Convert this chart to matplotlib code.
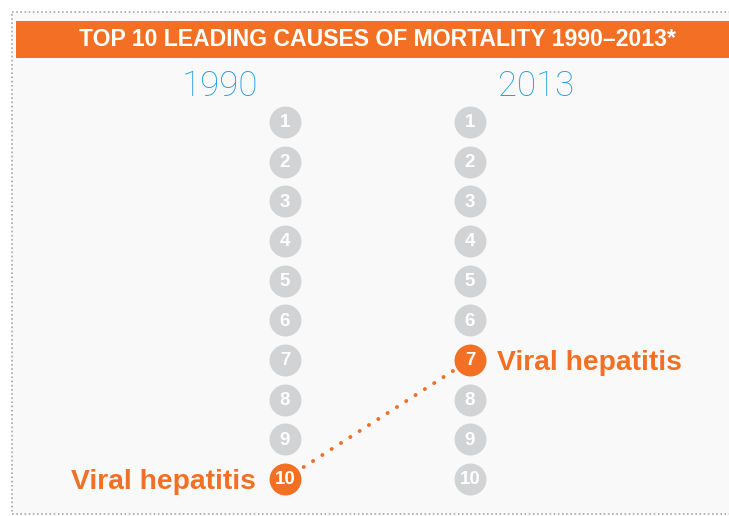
import matplotlib.pyplot as plt
from matplotlib.patches import Rectangle

# data
years = ["1990", "2013"]
ranks = list(range(1, 11))
cause = "Viral hepatitis"
cause_rank = [10, 7]  # rank in 1990, rank in 2013
title = "TOP 10 LEADING CAUSES OF MORTALITY 1990\u20132013*"

orange = "#f26f23"
gray = "#d1d3d4"
blue = "#229ddd"

W, H = 729, 516
fig = plt.figure(figsize=(W / 100, H / 100), dpi=100)
fig.patch.set_facecolor("white")

# background panel and dotted border (figure pixel coords)
bg = fig.add_axes([0, 0, 1, 1])
bg.set_xlim(0, W)
bg.set_ylim(H, 0)
bg.axis("off")
bg.add_patch(Rectangle((12, 12), W, 502, facecolor="#f9f9f9",
                       edgecolor="#a8a8a8", lw=1.2, linestyle=(0, (1, 1.5))))
bg.add_patch(Rectangle((16, 21), W, 37, facecolor=orange, edgecolor="none"))
bg.text(378, 40, title, color="white", fontsize=16.6, fontweight="bold",
        ha="center", va="center",
        family=["Liberation Sans", "DejaVu Sans"])

# chart axes: x = column index, y = rank
ax = fig.add_axes([0, 0, 1, 1])
ax.set_xlim(-285 / 185, (W - 285) / 185)
step = 39.67
ax.set_ylim(1 + (H - 122) / step, 1 - 122 / step)
ax.axis("off")
ax.patch.set_alpha(0)

year_dx = [-0.35, 0.357]
for i, yr in enumerate(years):
    ax.text(i + year_dx[i], 0.1, yr, color=blue, fontsize=25, fontweight="light",
            ha="center", va="center", family=["Roboto", "Liberation Sans"])
    for r in ranks:
        hi = (r == cause_rank[i])
        ax.plot(i, r, "o", ms=23, color=orange if hi else gray, mec="none", zorder=3)
        ax.text(i, r + 0.02, str(r), color="white", fontsize=13.5, fontweight="bold",
                ha="center", va="center", zorder=4,
                family=["Liberation Sans", "DejaVu Sans"])

# connecting dotted line
ax.plot([0, 1], cause_rank, color=orange, lw=2.8, zorder=2,
        linestyle=(0, (0.05, 2.8)), dash_capstyle="round")

lab_kw = dict(color=orange, fontsize=20.3, fontweight="bold", va="center",
              family=["Liberation Sans", "DejaVu Sans"])
ax.text(-0.155, cause_rank[0] + 0.07, cause, ha="right", **lab_kw)
ax.text(1.145, cause_rank[1] + 0.07, cause, ha="left", **lab_kw)

fig.savefig("out.png", dpi=100)
